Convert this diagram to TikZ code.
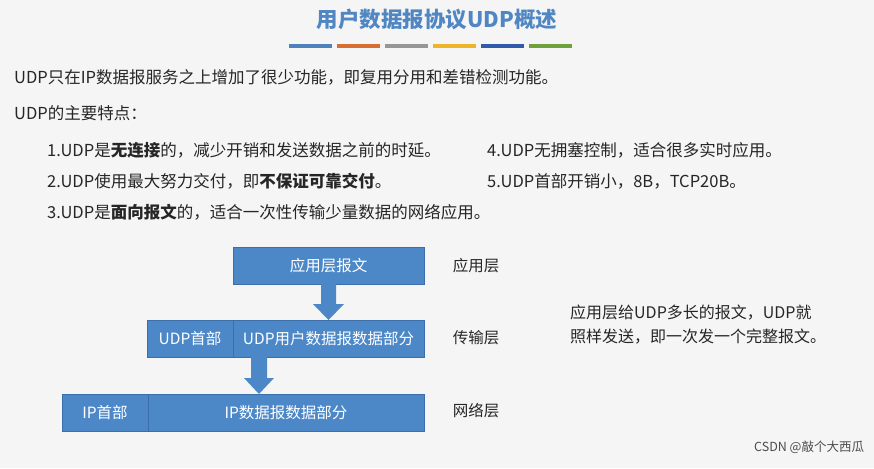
\documentclass[tikz,border=0pt]{standalone}
\usepackage{fontspec}
\setmainfont{Noto Sans CJK SC}
\definecolor{bx}{RGB}{76,136,200}
\definecolor{bxd}{RGB}{60,110,170}
\definecolor{ttl}{RGB}{80,135,195}
\definecolor{c1}{RGB}{79,129,189}
\definecolor{c2}{RGB}{217,110,50}
\definecolor{c3}{RGB}{150,150,150}
\definecolor{c4}{RGB}{240,180,40}
\definecolor{c5}{RGB}{50,90,170}
\definecolor{c6}{RGB}{110,160,60}
\tikzset{blk/.style={fill=bx,draw=bxd,line width=0.8pt},
 btxt/.style={text=white,font=\fontsize{15.5}{18}\selectfont},
 ltxt/.style={anchor=west,font=\fontsize{16.5}{19}\selectfont,text=black!85,inner sep=0pt},
 rtxt/.style={anchor=west,font=\fontsize{16}{19}\selectfont,text=black!85,inner sep=0pt},
 lay/.style={font=\fontsize{15.5}{18}\selectfont,text=black!85},
 bar/.style={line width=4pt}}
\begin{document}
\begin{tikzpicture}[x=1pt,y=-1pt]
\fill[gray!8] (0,0) rectangle (874,468);
\useasboundingbox (0,0) rectangle (874,468);
\node[text=ttl,font=\fontsize{21.5}{24}\selectfont\bfseries] (title) at (437,19) {用户数据报协议UDP概述};
\foreach \c [count=\i] in {c1,c2,c3,c4,c5,c6}
  \draw[bar,draw=\c] ({289+48*(\i-1)},46) -- ++(43,0);
\node[ltxt] (l1) at (14,77) {UDP只在IP数据报服务之上增加了很少功能，即复用分用和差错检测功能。};
\node[ltxt] (l2) at (14,113) {UDP的主要特点：};
\node[ltxt] (a1) at (47,150) {1.UDP是\textbf{无连接}的，减少开销和发送数据之前的时延。};
\node[ltxt] (a2) at (47,181) {2.UDP使用最大努力交付，即\textbf{不保证可靠交付}。};
\node[ltxt] (a3) at (47,212) {3.UDP是\textbf{面向报文}的，适合一次性传输少量数据的网络应用。};
\node[ltxt] (a4) at (487,150) {4.UDP无拥塞控制，适合很多实时应用。};
\node[ltxt] (a5) at (487,181) {5.UDP首部开销小，8B，TCP20B。};
% boxes
\draw[blk] (233,247) rectangle (424,284);
\node[btxt] (app) at (328.5,265.5) {应用层报文};
\draw[blk] (147,320) rectangle (233,357);
\draw[blk] (233,320) rectangle (424,357);
\node[btxt] (uh) at (190,338.5) {UDP首部};
\node[btxt] (ud) at (328.5,338.5) {UDP用户数据报数据部分};
\draw[blk] (62,394) rectangle (148,431);
\draw[blk] (148,394) rectangle (424,431);
\node[btxt] (ih) at (105,412.5) {IP首部};
\node[btxt] (id) at (286,412.5) {IP数据报数据部分};
% arrows
\fill[bx] (321,284) -- (336,284) -- (336,304) -- (344,304) -- (328.5,320) -- (313,304) -- (321,304) -- cycle;
\fill[bx] (251,357) -- (267,357) -- (267,378) -- (274,378) -- (259,394) -- (244,378) -- (251,378) -- cycle;
\node[lay] (la) at (476,266) {应用层};
\node[lay] (lt) at (476,338) {传输层};
\node[lay] (ln) at (476,411) {网络层};
\node[rtxt] (r1) at (570,313) {应用层给UDP多长的报文，UDP就};
\node[rtxt] (r2) at (570,337) {照样发送，即一次发一个完整报文。};
\node[rtxt,text=black!70,font=\fontsize{12.5}{15}\selectfont] (wm) at (754,447) {CSDN @敲个大西瓜};
\end{tikzpicture}
\end{document}
